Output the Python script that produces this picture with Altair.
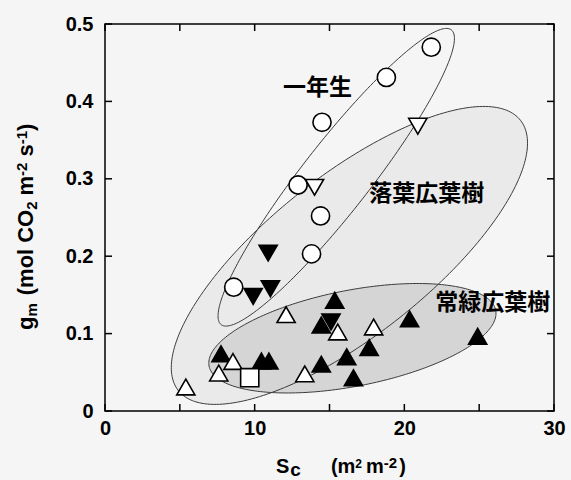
import numpy as np
import pandas as pd
import altair as alt

# ---- plot geometry -------------------------------------------------------
W, H = 449, 387
X_MAX, Y_MAX = 30, 0.5
PX_X = W / X_MAX          # pixels per S_c unit
PX_Y = H / Y_MAX          # pixels per g_m unit
TICK = 7                  # inward tick length, px

x_tick_values = [0, 5, 10, 15, 20, 25, 30]
x_label_values = [0, 10, 20, 30]
y_tick_values = [0, 0.1, 0.2, 0.3, 0.4, 0.5]

# ---- measured values (S_c, g_m) -----------------------------------------
# 一年生: open circles
annual_sc = [21.8, 18.8, 14.5, 12.9, 14.4, 13.8, 8.6]
annual_gm = [0.470, 0.431, 0.373, 0.292, 0.252, 0.203, 0.160]

# 落葉広葉樹: open and filled down-triangles
decid_open_sc = [20.9, 14.0]
decid_open_gm = [0.368, 0.289]
decid_fill_sc = [10.9, 9.9, 11.05, 15.1]
decid_fill_gm = [0.204, 0.148, 0.158, 0.115]

# 常緑広葉樹: open and filled up-triangles, one open square
ever_open_sc = [5.4, 7.6, 8.55, 12.1, 15.55, 17.95, 13.35]
ever_open_gm = [0.031, 0.049, 0.064, 0.1245, 0.102, 0.1085, 0.048]
ever_fill_sc = [7.75, 10.45, 10.95, 14.45, 14.45, 16.15, 16.6, 17.65, 15.35, 20.35, 24.9]
ever_fill_gm = [0.074, 0.0645, 0.0645, 0.0605, 0.111, 0.070, 0.043, 0.082, 0.143, 0.119, 0.0965]
square_sc = [9.67]
square_gm = [0.043]

# ---- group ellipses: centre (data units), semi-axes (px), tilt (deg) ------
ell_name = ["一年生", "落葉広葉樹", "常緑広葉樹"]
ell_cx = [15.45, 16.33, 16.53]
ell_cy = [0.302, 0.201, 0.094]
ell_a = [187, 218, 146]
ell_b = [34, 80, 48]
ell_deg = [52, 38.3, 11]
ell_fill = [None, "#eaeaea", "#d5d5d5"]

# ---- group labels --------------------------------------------------------
label_text = ["一年生", "落葉広葉樹", "常緑広葉樹"]
label_sc = [14.2, 21.5, 25.9]
label_gm = [0.417, 0.281, 0.139]

# ---- axis titles as runs of (text, font size, baseline shift, gap before) -
x_title_runs = [("S", 20, 0, 0), ("c", 19, 3, 1), ("(m", 20, 0, 30),
                ("2", 12, -5, 0), ("m", 20, 0, 4), ("-2", 15, -5, 0),
                (")", 20, 0, 2)]
y_title_runs = [("g", 22, 0, 0), ("m", 15, 4, 0), ("(mol", 22, 0, 8),
                ("CO", 22, 0, 6), ("2", 15, 4, 0), ("m", 22, 0, 6),
                ("-2", 15, -6, 0), ("s", 22, 0, 6), ("-1", 15, -6, 0),
                (")", 22, 0, 0)]

# advance widths of Liberation Sans Bold (per 1000 em)
ADV = {"S": 667, "c": 556, "(": 333, ")": 333, "m": 889, "2": 556,
       "1": 556, "-": 333, "g": 611, "o": 611, "l": 278, "C": 722,
       "O": 778, "s": 556, " ": 278}


def run_width(text, size):
    return sum(ADV.get(ch, 600) for ch in text) * size / 1000.0


def ellipse_outline(i, n=241):
    t = np.linspace(0, 2 * np.pi, n)
    th = np.radians(ell_deg[i])
    dx = ell_a[i] * np.cos(t) * np.cos(th) - ell_b[i] * np.sin(t) * np.sin(th)
    dy = ell_a[i] * np.cos(t) * np.sin(th) + ell_b[i] * np.sin(t) * np.cos(th)
    return pd.DataFrame({
        "name": ell_name[i],
        "k": np.arange(n),
        "sc": ell_cx[i] + dx / PX_X,
        "gm": ell_cy[i] + dy / PX_Y,
    })


def ellipse_band(i, n=200):
    """Lower/upper edge of the ellipse for each x, for a filled area."""
    th = np.radians(ell_deg[i])
    a, b = ell_a[i], ell_b[i]
    c, s = np.cos(th), np.sin(th)
    A = c * c / a ** 2 + s * s / b ** 2
    B = 2 * c * s * (1 / a ** 2 - 1 / b ** 2)
    C = s * s / a ** 2 + c * c / b ** 2
    half_w = np.sqrt(4 * C / (4 * A * C - B * B))
    dx = -half_w * np.cos(np.linspace(0, np.pi, n))
    disc = np.clip(B * B * dx * dx - 4 * C * (A * dx * dx - 1), 0, None)
    lo = (-B * dx - np.sqrt(disc)) / (2 * C)
    hi = (-B * dx + np.sqrt(disc)) / (2 * C)
    return pd.DataFrame({
        "sc": ell_cx[i] + dx / PX_X,
        "lo": ell_cy[i] + lo / PX_Y,
        "hi": ell_cy[i] + hi / PX_Y,
    })


# ---- points table (filled markers first so open ones sit on top) --------
kinds = ["decid_fill", "ever_fill", "annual", "decid_open", "ever_open", "square"]
kind_shape = ["triangle-down", "triangle-up", "circle", "triangle-down", "triangle-up", "square"]
kind_fill = ["black", "black", "white", "white", "white", "white"]
kind_size = [330, 330, 165, 330, 330, 290]

series = [
    ("decid_fill", decid_fill_sc, decid_fill_gm),
    ("ever_fill", ever_fill_sc, ever_fill_gm),
    ("annual", annual_sc, annual_gm),
    ("decid_open", decid_open_sc, decid_open_gm),
    ("ever_open", ever_open_sc, ever_open_gm),
    ("square", square_sc, square_gm),
]
pts = pd.concat(
    [pd.DataFrame({"kind": k, "sc": xs, "gm": ys}) for k, xs, ys in series],
    ignore_index=True,
)
pts["ord"] = np.arange(len(pts))

xs_scale = alt.Scale(domain=[0, X_MAX], nice=False, zero=False)
ys_scale = alt.Scale(domain=[0, Y_MAX], nice=False, zero=False)

FONT = "Liberation Sans"
CJK = "Noto Sans CJK JP"

# ---- ellipse fills -------------------------------------------------------
def band_chart(i):
    return alt.Chart(ellipse_band(i)).mark_area(color=ell_fill[i], opacity=1).encode(
        x=alt.X("sc:Q", scale=xs_scale, axis=None),
        y=alt.Y("lo:Q", scale=ys_scale, axis=None),
        y2="hi:Q",
    )


fill_mid = band_chart(1)
fill_low = band_chart(2)

outlines = alt.Chart(
    pd.concat([ellipse_outline(i) for i in range(3)], ignore_index=True)
).mark_line(color="#3c3c3c", strokeWidth=1).encode(
    x=alt.X("sc:Q", scale=xs_scale, axis=None),
    y=alt.Y("gm:Q", scale=ys_scale, axis=None),
    detail="name:N",
    order="k:Q",
)

# ---- inward ticks on all four sides ---------------------------------------
xt = pd.DataFrame({"v": x_tick_values})
yt = pd.DataFrame({"v": y_tick_values})
tick_mark = dict(color="black", strokeWidth=1.5)
ticks_bottom = alt.Chart(xt).mark_rule(**tick_mark).encode(
    x=alt.X("v:Q", scale=xs_scale, axis=None),
    y=alt.value(H), y2=alt.value(H - TICK))
ticks_top = alt.Chart(xt).mark_rule(**tick_mark).encode(
    x=alt.X("v:Q", scale=xs_scale, axis=None),
    y=alt.value(0), y2=alt.value(TICK))
ticks_left = alt.Chart(yt).mark_rule(**tick_mark).encode(
    y=alt.Y("v:Q", scale=ys_scale, axis=None),
    x=alt.value(0), x2=alt.value(TICK))
ticks_right = alt.Chart(yt).mark_rule(**tick_mark).encode(
    y=alt.Y("v:Q", scale=ys_scale, axis=None),
    x=alt.value(W), x2=alt.value(W - TICK))

label_style = dict(labelFont=FONT, labelFontWeight="bold", labelFontSize=20,
                   labelColor="black", labelFlush=False, title=None,
                   ticks=False, tickSize=0, domain=False, grid=False)

points = alt.Chart(pts).mark_point(
    filled=True, stroke="black", strokeWidth=1.6, opacity=1
).encode(
    x=alt.X("sc:Q", scale=xs_scale,
            axis=alt.Axis(orient="bottom", values=x_label_values,
                          labelPadding=7, format="d", **label_style)),
    y=alt.Y("gm:Q", scale=ys_scale,
            axis=alt.Axis(orient="left", values=y_tick_values, labelPadding=12,
                          labelExpr="datum.value == 0 ? '0' : format(datum.value, '.1f')",
                          **label_style)),
    shape=alt.Shape("kind:N", scale=alt.Scale(domain=kinds, range=kind_shape), legend=None),
    fill=alt.Fill("kind:N", scale=alt.Scale(domain=kinds, range=kind_fill), legend=None),
    size=alt.Size("kind:N", scale=alt.Scale(domain=kinds, range=kind_size), legend=None),
    order="ord:Q",
)

labels = alt.Chart(
    pd.DataFrame({"text": label_text, "sc": label_sc, "gm": label_gm})
).mark_text(font=CJK, fontWeight="bold", fontSize=23, color="black",
            align="center", baseline="middle").encode(
    x=alt.X("sc:Q", scale=xs_scale, axis=None),
    y=alt.Y("gm:Q", scale=ys_scale, axis=None),
    text="text:N",
)


# ---- axis titles built from runs (sub/superscripts as shifted runs) ------
def title_runs(runs, start, base, vertical):
    """Lay runs out left-to-right, or bottom-to-top when vertical."""
    step = -1 if vertical else 1
    layers = []
    pos = start
    for text, size, shift, gap in runs:
        pos += step * gap
        if vertical:
            enc = dict(x=alt.value(base + shift), y=alt.value(pos))
            extra = dict(angle=270)
        else:
            enc = dict(x=alt.value(pos), y=alt.value(base + shift))
            extra = {}
        layers.append(
            alt.Chart(pd.DataFrame({"t": [text]})).mark_text(
                font=FONT, fontWeight="bold", fontSize=size, align="left",
                baseline="alphabetic", color="black", **extra
            ).encode(text="t:N", **enc)
        )
        pos += step * run_width(text, size)
    return layers


x_title = title_runs(x_title_runs, start=171, base=449, vertical=False)
y_title = title_runs(y_title_runs, start=306, base=-72, vertical=True)

chart = alt.layer(
    fill_mid, fill_low, outlines,
    ticks_bottom, ticks_top, ticks_left, ticks_right,
    points, labels, *x_title, *y_title,
).resolve_scale(
    x="shared", y="shared"
).resolve_axis(
    x="independent", y="independent"
).properties(
    width=W, height=H,
    autosize=alt.AutoSizeParams(type="none"),
    padding={"left": 105, "top": 24, "right": 17, "bottom": 69},
    background="#f5f5f5",
).configure_view(
    stroke="black", strokeWidth=1.5, fill="#f5f5f5"
)

chart.save("out.html", embed_options={"renderer": "svg", "actions": False})
